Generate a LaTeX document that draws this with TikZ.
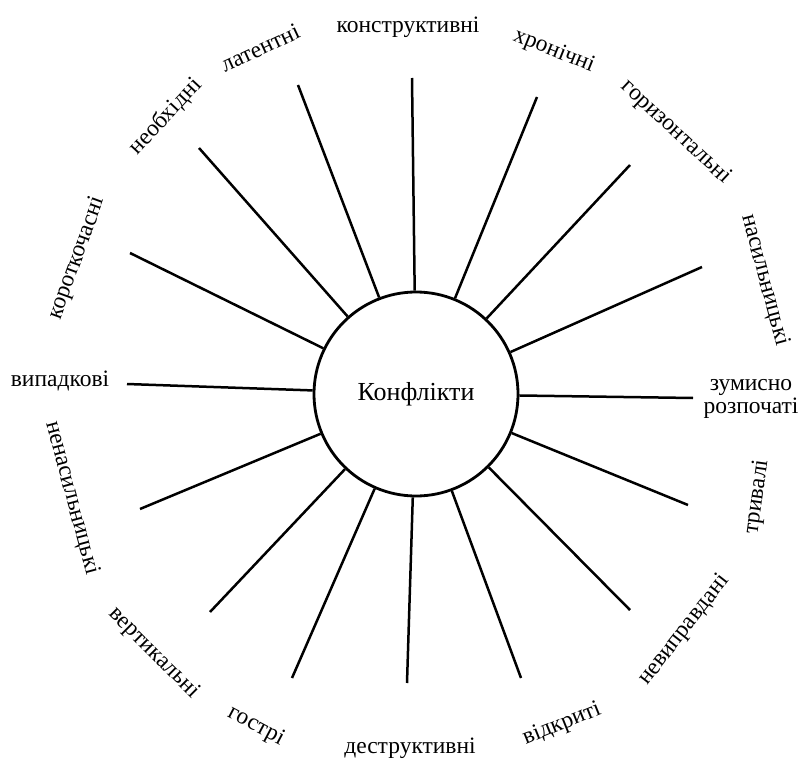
\documentclass[tikz,border=0pt]{standalone}
\usepackage{fontspec}
\setmainfont{Liberation Serif}
\begin{document}
\begin{tikzpicture}[x=1pt,y=-1pt,
  lbl/.style={font=\fontsize{23.5}{24}\selectfont, inner sep=0pt, text height=16pt, text depth=5pt},
  lbltwo/.style={font=\fontsize{23.5}{22.5}\selectfont, inner sep=0pt, align=center},
  ray/.style={line width=2.5pt},
  hub/.style={circle, draw, line width=2.8pt, minimum size=204pt, inner sep=0pt, font=\fontsize{26}{28}\selectfont}
]
\useasboundingbox (0,0) rectangle (803,762);
\node[hub] (c) at (416,394) {Конфлікти};
% outer ends of rays
\coordinate (o1) at (412,78);
\coordinate (o2) at (537,97);
\coordinate (o3) at (630,165);
\coordinate (o4) at (702,267);
\coordinate (o5) at (693,398);
\coordinate (o6) at (688,505);
\coordinate (o7) at (630,610);
\coordinate (o8) at (521,678);
\coordinate (o9) at (407,683);
\coordinate (o10) at (292,678);
\coordinate (o11) at (210,612);
\coordinate (o12) at (140,509);
\coordinate (o13) at (127,384);
\coordinate (o14) at (130,253);
\coordinate (o15) at (199,148);
\coordinate (o16) at (298,85);
\foreach \i in {1,...,16} { \draw[ray] (c) -- (o\i); }
% labels
\node[lbl] (l1) at (408,27) {конструктивні};
\node[lbl, rotate=-22] (l2) at (554,51) {хронічні};
\node[lbl, rotate=-43] (l3) at (676,132) {горизонтальні};
\node[lbl, rotate=-75] (l4) at (765,280) {насильницькі};
\node[lbltwo] (l5) at (751,399) {зумисно\\розпочаті};
\node[lbl, rotate=82] (l6) at (757,497) {тривалі};
\node[lbl, rotate=52] (l7) at (684,630) {невиправдані};
\node[lbl, rotate=22] (l8) at (562,724) {відкриті};
\node[lbl] (l9) at (410,748) {деструктивні};
\node[lbl, rotate=-28] (l10) at (256,726) {гострі};
\node[lbl, rotate=-45] (l11) at (154,653) {вертикальні};
\node[lbl, rotate=-75] (l12) at (72,498) {ненасильницькі};
\node[lbl] (l13) at (60,381) {випадкові};
\node[lbl, rotate=70] (l14) at (77,258) {короткочасні};
\node[lbl, rotate=47] (l15) at (166,117) {необхідні};
\node[lbl, rotate=25] (l16) at (261,50) {латентні};
\end{tikzpicture}
\end{document}
